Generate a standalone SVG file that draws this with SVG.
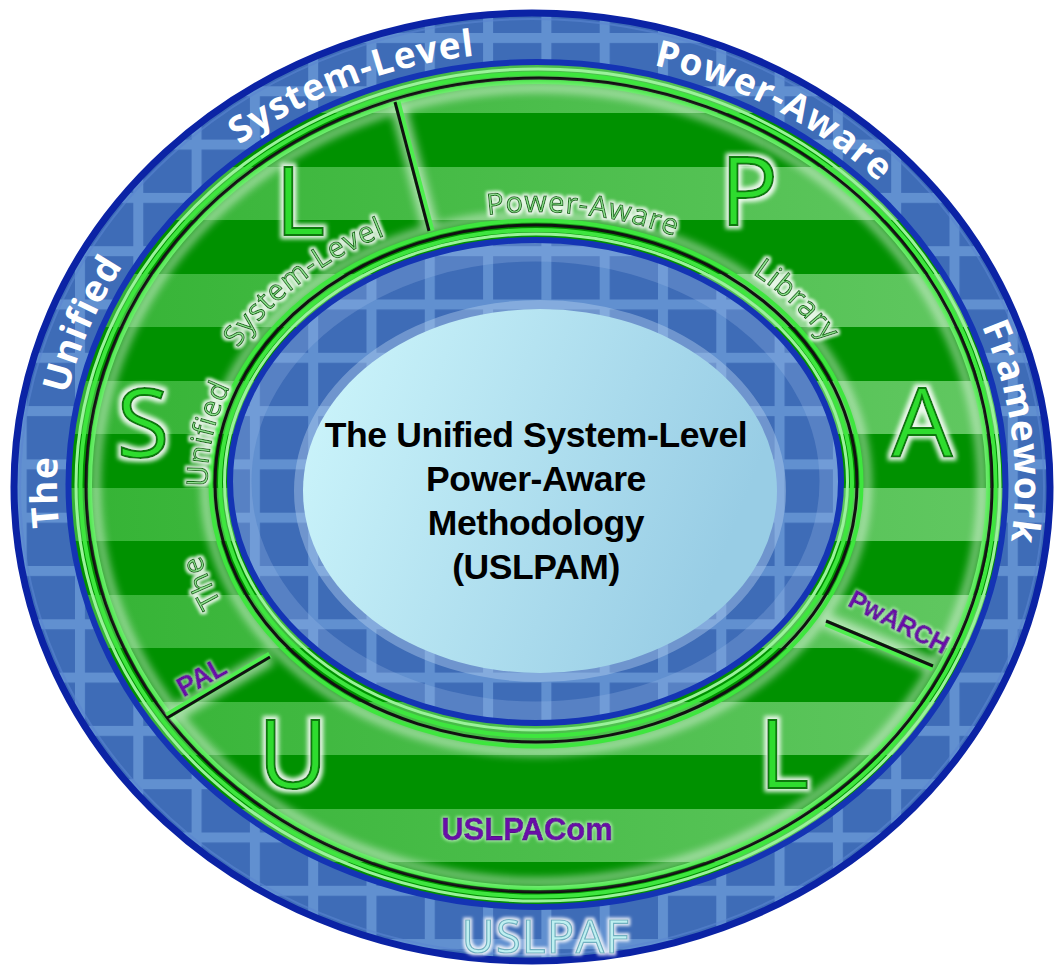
<svg xmlns="http://www.w3.org/2000/svg" width="1054" height="965" viewBox="0 0 1054 965">
<style>
.outerTxt{font-family:"Open Sans",sans-serif;font-weight:700;font-size:37px;fill:#ffffff;text-anchor:middle;letter-spacing:1px}
.innerTxt{font-family:"Open Sans",sans-serif;font-weight:400;font-size:29px;fill:#97e497;stroke:#146f14;stroke-width:1;text-anchor:middle;letter-spacing:1px;filter:url(#halo)}
.big{font-family:"Open Sans",sans-serif;font-weight:400;font-size:96px;fill:#2fdc2f;stroke:#0b7a0b;stroke-width:2;text-anchor:middle;filter:url(#haloBig)}
.purple{font-family:"Liberation Sans",Arial,sans-serif;font-weight:700;fill:#6a10a8;stroke:#55088a;stroke-width:0.8;text-anchor:middle;filter:url(#haloSoft)}
.core{font-family:"Liberation Sans",Arial,sans-serif;font-weight:700;font-size:35.5px;fill:#000000;text-anchor:middle;letter-spacing:-0.4px}
.blackLine{fill:none;stroke:#111111;stroke-width:3}
.greenLine{fill:none;stroke:#3ee63e;stroke-width:4}
.paleLine{fill:none;stroke:#9af29a;stroke-width:3}
.blueLine{fill:none;stroke:#1434b4;stroke-width:6}
</style>
<defs>
<pattern id="grid" patternUnits="userSpaceOnUse" x="75" y="33" width="58.3" height="53.3">
<rect width="58.3" height="53.3" fill="#3e6cb7"/>
<rect width="10" height="53.3" fill="#6190d0"/>
<rect width="58.3" height="10" fill="#6190d0"/>
</pattern>
<linearGradient id="lg" gradientUnits="userSpaceOnUse" x1="60" y1="0" x2="1010" y2="0">
<stop offset="0" stop-color="#34b334"/>
<stop offset="1" stop-color="#62c862"/>
</linearGradient>
<pattern id="stripes" patternUnits="userSpaceOnUse" x="0" y="113" width="1054" height="107">
<rect width="1054" height="54" fill="#009100"/>
<rect y="54" width="1054" height="53" fill="url(#lg)"/>
</pattern>
<linearGradient id="coreGrad" x1="0" y1="0" x2="1" y2="0.3">
<stop offset="0" stop-color="#cff7fc"/>
<stop offset="1" stop-color="#98cde5"/>
</linearGradient>
<filter id="blur4" x="-10%" y="-10%" width="120%" height="120%"><feGaussianBlur stdDeviation="4"/></filter>
<filter id="halo" x="-20%" y="-20%" width="140%" height="140%">
<feMorphology in="SourceAlpha" operator="dilate" radius="1.5" result="d"/>
<feGaussianBlur in="d" stdDeviation="1.5" result="b"/>
<feFlood flood-color="#ffffff" flood-opacity="0.85"/>
<feComposite in2="b" operator="in" result="g"/>
<feMerge><feMergeNode in="g"/><feMergeNode in="SourceGraphic"/></feMerge>
</filter>
<filter id="haloBig" x="-30%" y="-30%" width="160%" height="160%">
<feMorphology in="SourceAlpha" operator="dilate" radius="2.5" result="d"/>
<feGaussianBlur in="d" stdDeviation="2" result="b"/>
<feFlood flood-color="#ffffff" flood-opacity="0.9"/>
<feComposite in2="b" operator="in" result="g"/>
<feMerge><feMergeNode in="g"/><feMergeNode in="SourceGraphic"/></feMerge>
</filter>
<filter id="haloSoft" x="-20%" y="-20%" width="140%" height="140%">
<feMorphology in="SourceAlpha" operator="dilate" radius="1" result="d"/>
<feGaussianBlur in="d" stdDeviation="1.5" result="b"/>
<feFlood flood-color="#d8ffd8" flood-opacity="0.7"/>
<feComposite in2="b" operator="in" result="g"/>
<feMerge><feMergeNode in="g"/><feMergeNode in="SourceGraphic"/></feMerge>
</filter>
<clipPath id="bandClip">
<path clip-rule="evenodd" d="M86,485 A453 407 0 1 1 992,485 A453 407 0 1 1 86,485 Z M215,483.5 A321 258.5 0 1 0 857,483.5 A321 258.5 0 1 0 215,483.5 Z"/>
</clipPath>
<path id="pOuter" d="M536,918 A479 433 0 0 1 57,485 A479 433 0 0 1 536,52 A479 433 0 0 1 1015,485 A479 433 0 0 1 536,918 Z"/>
<path id="pUnified" d="M536,750 A328.6 266 0 0 1 207.4,484 A328.6 266 0 0 1 536,218 A328.6 266 0 0 1 864.6,484 A328.6 266 0 0 1 536,750 Z"/>
<path id="pSystem" d="M536,761 A342 277 0 0 1 194,484 A342 277 0 0 1 536,207 A342 277 0 0 1 878,484 A342 277 0 0 1 536,761 Z"/>
<path id="pPower" d="M536,756 A336 272 0 0 1 200,484 A336 272 0 0 1 536,212 A336 272 0 0 1 872,484 A336 272 0 0 1 536,756 Z"/>
<path id="pLibrary" d="M536,758 A338 274 0 0 1 198,484 A338 274 0 0 1 536,210 A338 274 0 0 1 874,484 A338 274 0 0 1 536,758 Z"/>
<path id="pThe" d="M536,765 A347 281 0 0 1 189,484 A347 281 0 0 1 536,203 A347 281 0 0 1 883,484 A347 281 0 0 1 536,765 Z"/>
</defs>

<rect width="1054" height="965" fill="#ffffff"/>

<g id="framework-ring">
<ellipse cx="532" cy="487" rx="518" ry="474" fill="url(#grid)" stroke="#0b23a5" stroke-width="7"/>
<ellipse cx="532" cy="487" rx="512" ry="468" fill="none" stroke="#5a86d0" stroke-width="2" opacity="0.6"/>
<text class="outerTxt"><textPath href="#pOuter" startOffset="24.76%">The</textPath></text>
<text class="outerTxt"><textPath href="#pOuter" startOffset="30.66%">Unified</textPath></text>
<text class="outerTxt"><textPath href="#pOuter" startOffset="43.43%">System-Level</textPath></text>
<text class="outerTxt"><textPath href="#pOuter" startOffset="58.63%">Power-Aware</textPath></text>
<text class="outerTxt"><textPath href="#pOuter" startOffset="73.15%">Framework</textPath></text>
<text x="546" y="953" font-family="Open Sans, sans-serif" font-size="45" font-weight="400" fill="#bff0f0" stroke="#6fb0c0" stroke-width="1.2" text-anchor="middle" letter-spacing="1.5" filter="url(#halo)">USLPAF</text>
</g>

<g id="library-ring">
<ellipse cx="537" cy="484.5" rx="468.5" ry="422.5" fill="url(#stripes)"/>
<ellipse cx="537" cy="484.5" rx="468.5" ry="422.5" class="blueLine"/>
<ellipse cx="538" cy="485" rx="462" ry="416" class="paleLine"/>
<ellipse cx="538" cy="485" rx="457.5" ry="411.5" class="greenLine"/>
<ellipse cx="539" cy="485" rx="453" ry="407" class="blackLine"/>
<ellipse cx="539" cy="485" rx="449" ry="403" class="greenLine" stroke-width="3"/>
<g clip-path="url(#bandClip)" filter="url(#blur4)" opacity="0.55">
<ellipse cx="539" cy="485" rx="443" ry="397" fill="none" stroke="#ffffff" stroke-width="8"/>
<ellipse cx="536" cy="483.5" rx="331" ry="268.5" fill="none" stroke="#ffffff" stroke-width="8"/>
<line x1="397" y1="102" x2="431" y2="231" stroke="#ffffff" stroke-width="16"/>
<line x1="167" y1="718" x2="270" y2="657" stroke="#ffffff" stroke-width="16"/>
<line x1="826" y1="621" x2="933" y2="666" stroke="#ffffff" stroke-width="16"/>
</g>
<ellipse cx="536" cy="483.5" rx="325.5" ry="263" class="greenLine" stroke-width="3"/>
<ellipse cx="536" cy="483.5" rx="321" ry="258.5" class="blackLine"/>
<ellipse cx="536" cy="483" rx="316" ry="253" class="greenLine"/>
<ellipse cx="536" cy="482" rx="311.5" ry="248" class="paleLine" stroke-width="2"/>
</g>

<g id="methodology-core">
<ellipse cx="535.5" cy="481.5" rx="305.5" ry="241.5" fill="url(#grid)"/>
<ellipse cx="535.5" cy="481.5" rx="294" ry="230" fill="none" stroke="#a4c0ea" stroke-width="20" opacity="0.25"/>
<ellipse cx="535.5" cy="481.5" rx="305.5" ry="241.5" class="blueLine"/>
<ellipse cx="540" cy="491" rx="237" ry="182" fill="none" stroke="#b8d4f0" stroke-width="18" opacity="0.4"/>
<ellipse cx="540" cy="491" rx="237" ry="182" fill="url(#coreGrad)"/>
<text class="core" x="536" y="447">The Unified System-Level</text>
<text class="core" x="536" y="491">Power-Aware</text>
<text class="core" x="536" y="535">Methodology</text>
<text class="core" x="536" y="579">(USLPAM)</text>
</g>

<g id="dividers" class="connectors">
<line x1="397" y1="102" x2="431" y2="231" stroke="#4dee4d" stroke-width="7"/>
<line x1="395" y1="102" x2="429" y2="231" stroke="#111111" stroke-width="3"/>
<line x1="167" y1="716" x2="270" y2="655" stroke="#4dee4d" stroke-width="7"/>
<line x1="167" y1="718" x2="270" y2="657" stroke="#111111" stroke-width="3"/>
<line x1="826" y1="623" x2="933" y2="668" stroke="#4dee4d" stroke-width="7"/>
<line x1="826" y1="621" x2="933" y2="666" stroke="#111111" stroke-width="3"/>
</g>

<g id="segment-S">
<text class="big" x="143" y="457">S</text>
<text class="innerTxt"><textPath href="#pThe" startOffset="20.06%">The</textPath></text>
<text class="innerTxt"><textPath href="#pUnified" startOffset="27.64%">Unified</textPath></text>
</g>
<g id="segment-L-top">
<text class="big" x="300" y="235">L</text>
<text class="innerTxt"><textPath href="#pSystem" startOffset="37.28%">System-Level</textPath></text>
</g>
<g id="segment-P">
<text class="big" x="749" y="225">P</text>
<text class="innerTxt"><textPath href="#pPower" startOffset="52.45%">Power-Aware</textPath></text>
</g>
<g id="segment-A">
<text class="big" x="922" y="457">A</text>
<text class="innerTxt"><textPath href="#pLibrary" startOffset="64.5%">Library</textPath></text>
</g>
<g id="segment-PwARCH">
<text class="purple" font-size="25" transform="translate(895,630) rotate(27)">PwARCH</text>
</g>
<g id="segment-L-bottom">
<text class="big" x="784" y="788">L</text>
</g>
<g id="segment-U">
<text class="big" x="293" y="788">U</text>
<text class="purple" font-size="31" x="527" y="840">USLPACom</text>
</g>
<g id="segment-PAL">
<text class="purple" font-size="27" transform="translate(206,685) rotate(-29)">PAL</text>
</g>
</svg>
